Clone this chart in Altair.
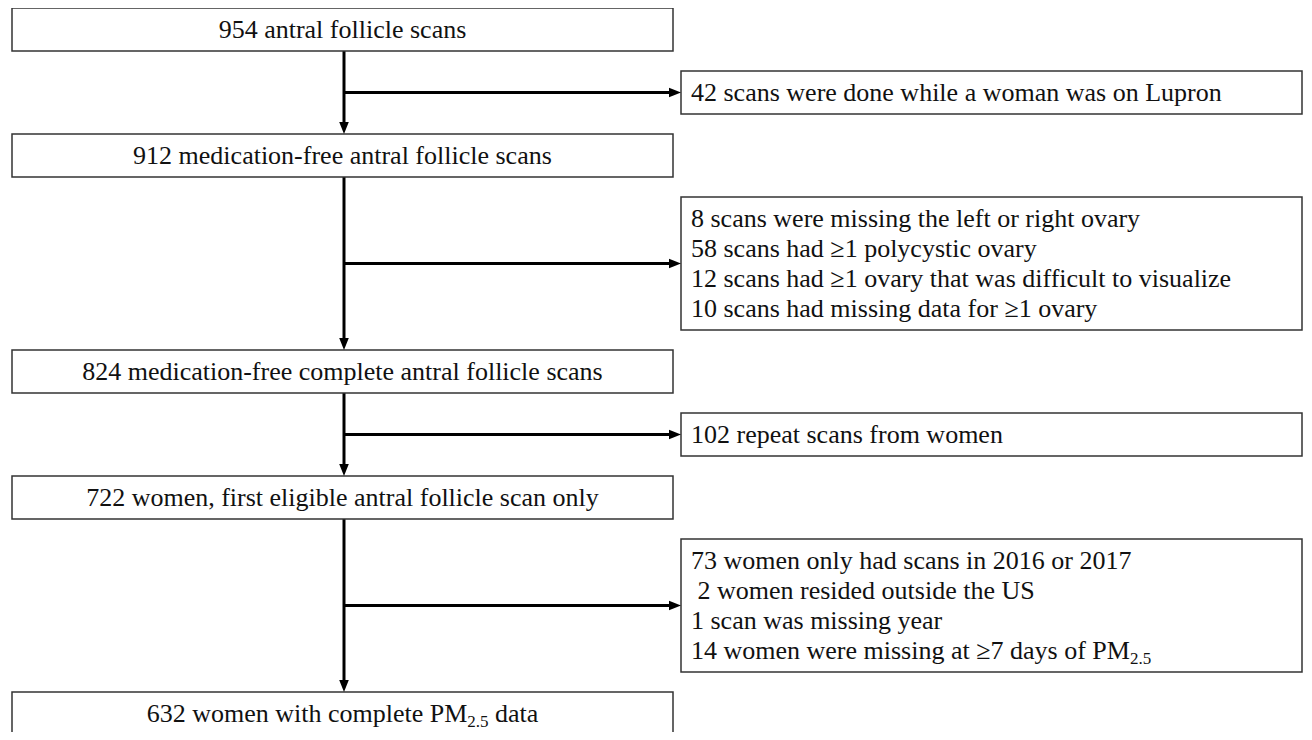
import re
import altair as alt
import pandas as pd

# ---------------- data ----------------
main_labels = [
    "954 antral follicle scans",
    "912 medication-free antral follicle scans",
    "824 medication-free complete antral follicle scans",
    "722 women, first eligible antral follicle scan only",
    "632 women with complete PM_{2.5} data",
]
exclusion_lines = [
    ["42 scans were done while a woman was on Lupron"],
    ["8 scans were missing the left or right ovary",
     "58 scans had \u22651 polycystic ovary",
     "12 scans had \u22651 ovary that was difficult to visualize",
     "10 scans had missing data for \u22651 ovary"],
    ["102 repeat scans from women"],
    ["73 women only had scans in 2016 or 2017",
     " 2 women resided outside the US",
     "1 scan was missing year",
     "14 women were missing at \u22657 days of PM_{2.5}"],
]

# ---------------- layout constants (pixels on the page) ----------------
W_PLOT, H_PLOT = 1296, 724
X_DOM = [8, 8 + W_PLOT]
Y_DOM = [8, 8 + H_PLOT]
MAIN_X0, MAIN_X1 = 12, 673
TRUNK_X = 344
EX_X0, EX_X1 = 681, 1302
TEXT_PAD_X = 10
TOP = 8
BOX_H = 43
GAP = 20
LH = 30
PAD_Y = 6.5
FS = 26
SUB_FS = 17
ARROW_LEN = 12
FONT = "Liberation Serif"

# Times / Liberation Serif advance widths (1/1000 em)
TW = {" ": 250, ".": 250, ",": 250, "-": 333, "\u2265": 549,
      "a": 444, "b": 500, "c": 444, "d": 500, "e": 444, "f": 333, "g": 500,
      "h": 500, "i": 278, "j": 278, "k": 500, "l": 278, "m": 778, "n": 500,
      "o": 500, "p": 500, "q": 500, "r": 333, "s": 389, "t": 278, "u": 500,
      "v": 500, "w": 722, "x": 500, "y": 500, "z": 444,
      "P": 556, "M": 889, "U": 722, "S": 556, "L": 611}


def tw(s, fs):
    return sum(TW.get(c, 500) for c in s) / 1000.0 * fs


def segments(line):
    parts = re.split(r"_\{(.*?)\}", line)
    return [(p, k % 2 == 1) for k, p in enumerate(parts) if p]


text_rows = []


def add_line(line, x, y_center, align):
    segs = segments(line)
    widths = [tw(t, SUB_FS if sub else FS) for t, sub in segs]
    total = sum(widths)
    cx = x - total / 2 if align == "center" else x
    base = y_center + 0.33 * FS
    for (t, sub), w in zip(segs, widths):
        fs = SUB_FS if sub else FS
        lead = len(t) - len(t.lstrip(" "))
        text_rows.append({
            "t": t.strip(" "),
            "x": cx + tw(" " * lead, fs),
            "y": base + (0.19 * FS if sub else 0),
            "fs": fs,
        })
        cx += w


boxes, vrules, hrules, arrows_down, arrows_right = [], [], [], [], []
y = TOP
for i, label in enumerate(main_labels):
    y0, y1 = y, y + BOX_H
    last = i == len(main_labels) - 1
    boxes.append({"x0": MAIN_X0, "x1": MAIN_X1, "y0": y0, "y1": y1 + (40 if last else 0)})
    add_line(label, (MAIN_X0 + MAIN_X1) / 2, (y0 + y1) / 2, "center")
    if i < len(exclusion_lines):
        lines = exclusion_lines[i]
        ex_h = len(lines) * LH + 2 * PAD_Y
        ex0 = y1 + GAP
        ex1 = ex0 + ex_h
        nxt = ex1 + GAP
        mid = (ex0 + ex1) / 2
        boxes.append({"x0": EX_X0, "x1": EX_X1, "y0": ex0, "y1": ex1})
        for j, ln in enumerate(lines):
            add_line(ln, EX_X0 + TEXT_PAD_X, mid + (j - (len(lines) - 1) / 2) * LH, "left")
        vrules.append({"x": TRUNK_X, "y0": y1, "y1": nxt - ARROW_LEN + 2})
        arrows_down.append({"x": TRUNK_X, "y": nxt})
        hrules.append({"x0": TRUNK_X, "x1": EX_X0 - ARROW_LEN + 2, "y": mid})
        arrows_right.append({"x": EX_X0, "y": mid})
        y = nxt

xs = alt.Scale(domain=X_DOM, nice=False, zero=False)
ys = alt.Scale(domain=Y_DOM, nice=False, zero=False, reverse=True)

box_layer = alt.Chart(pd.DataFrame(boxes)).mark_rect(
    fill="white", stroke="#333333", strokeWidth=1.5, clip=True
).encode(
    x=alt.X("x0:Q", scale=xs, axis=None), x2="x1:Q",
    y=alt.Y("y0:Q", scale=ys, axis=None), y2="y1:Q",
)

v_layer = alt.Chart(pd.DataFrame(vrules)).mark_rule(color="black", strokeWidth=3).encode(
    x=alt.X("x:Q", scale=xs, axis=None),
    y=alt.Y("y0:Q", scale=ys, axis=None), y2="y1:Q",
)
h_layer = alt.Chart(pd.DataFrame(hrules)).mark_rule(color="black", strokeWidth=3).encode(
    x=alt.X("x0:Q", scale=xs, axis=None), x2="x1:Q",
    y=alt.Y("y:Q", scale=ys, axis=None),
)

S = 144  # arrowhead size (about 12px long)
down_layer = alt.Chart(pd.DataFrame(arrows_down)).mark_point(
    shape="M0,0 L-0.8,-2 L0.8,-2 Z", filled=True, color="black", opacity=1, size=S, strokeWidth=0
).encode(x=alt.X("x:Q", scale=xs, axis=None), y=alt.Y("y:Q", scale=ys, axis=None))
right_layer = alt.Chart(pd.DataFrame(arrows_right)).mark_point(
    shape="M0,0 L-2,-0.8 L-2,0.8 Z", filled=True, color="black", opacity=1, size=S, strokeWidth=0
).encode(x=alt.X("x:Q", scale=xs, axis=None), y=alt.Y("y:Q", scale=ys, axis=None))

text_layer = alt.Chart(pd.DataFrame(text_rows)).mark_text(
    font=FONT, align="left", baseline="alphabetic", color="#111111"
).encode(
    x=alt.X("x:Q", scale=xs, axis=None),
    y=alt.Y("y:Q", scale=ys, axis=None),
    text="t:N",
    size=alt.Size("fs:Q", scale=None, legend=None),
)

chart = alt.layer(v_layer, h_layer, box_layer, down_layer, right_layer, text_layer).properties(
    width=W_PLOT, height=H_PLOT, padding=0, autosize="none", background="white"
).configure_view(stroke=None)

chart.save("out.html", embed_options={"renderer": "svg", "actions": False})
